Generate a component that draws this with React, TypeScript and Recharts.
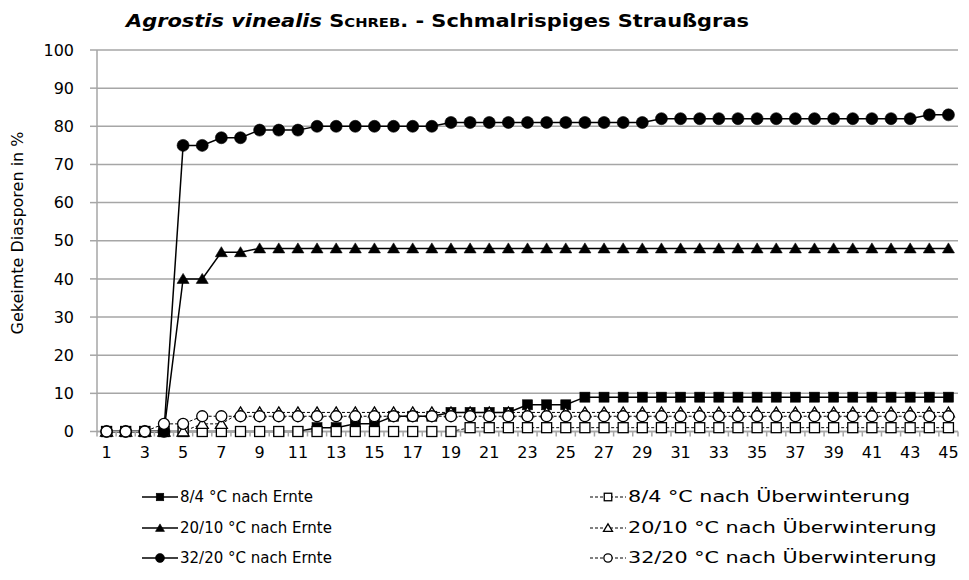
import { LineChart, Line, XAxis, YAxis, CartesianGrid } from 'recharts';

// Keimversuch, Tage 1-45
const days = [
  1, 2, 3, 4, 5, 6, 7, 8, 9, 10, 11, 12, 13, 14, 15, 16, 17, 18, 19, 20, 21, 22, 23,
  24, 25, 26, 27, 28, 29, 30, 31, 32, 33, 34, 35, 36, 37, 38, 39, 40, 41, 42, 43, 44, 45,
];
const dayLabels = [1, 3, 5, 7, 9, 11, 13, 15, 17, 19, 21, 23, 25, 27, 29, 31, 33, 35, 37, 39, 41, 43, 45];
const percentTicks = [0, 10, 20, 30, 40, 50, 60, 70, 80, 90, 100];

const ernte84 = [
  0, 0, 0, 0, 0, 0, 0, 0, 0, 0, 0, 1, 1, 2, 2, 4, 4, 4, 5, 5, 5, 5, 7,
  7, 7, 9, 9, 9, 9, 9, 9, 9, 9, 9, 9, 9, 9, 9, 9, 9, 9, 9, 9, 9, 9,
];
const ueberw84 = [
  0, 0, 0, 0, 0, 0, 0, 0, 0, 0, 0, 0, 0, 0, 0, 0, 0, 0, 0, 1, 1, 1, 1,
  1, 1, 1, 1, 1, 1, 1, 1, 1, 1, 1, 1, 1, 1, 1, 1, 1, 1, 1, 1, 1, 1,
];
const ernte2010 = [
  0, 0, 0, 0, 40, 40, 47, 47, 48, 48, 48, 48, 48, 48, 48, 48, 48, 48, 48, 48, 48, 48, 48,
  48, 48, 48, 48, 48, 48, 48, 48, 48, 48, 48, 48, 48, 48, 48, 48, 48, 48, 48, 48, 48, 48,
];
const ueberw2010 = [
  0, 0, 0, 0, 0, 2, 2, 5, 5, 5, 5, 5, 5, 5, 5, 5, 5, 5, 5, 5, 5, 5, 5,
  5, 5, 5, 5, 5, 5, 5, 5, 5, 5, 5, 5, 5, 5, 5, 5, 5, 5, 5, 5, 5, 5,
];
const ernte3220 = [
  0, 0, 0, 0, 75, 75, 77, 77, 79, 79, 79, 80, 80, 80, 80, 80, 80, 80, 81, 81, 81, 81, 81,
  81, 81, 81, 81, 81, 81, 82, 82, 82, 82, 82, 82, 82, 82, 82, 82, 82, 82, 82, 82, 83, 83,
];
const ueberw3220 = [
  0, 0, 0, 2, 2, 4, 4, 4, 4, 4, 4, 4, 4, 4, 4, 4, 4, 4, 4, 4, 4, 4, 4,
  4, 4, 4, 4, 4, 4, 4, 4, 4, 4, 4, 4, 4, 4, 4, 4, 4, 4, 4, 4, 4, 4,
];

const data = days.map((day, i) => ({
  day,
  e84: ernte84[i],
  u84: ueberw84[i],
  e2010: ernte2010[i],
  u2010: ueberw2010[i],
  e3220: ernte3220[i],
  u3220: ueberw3220[i],
}));

type Shape = 'square' | 'triangle' | 'circle';

const series: { key: string; name: string; shape: Shape; filled: boolean }[] = [
  { key: 'e84', name: '8/4 °C nach Ernte', shape: 'square', filled: true },
  { key: 'u84', name: '8/4 °C nach Überwinterung', shape: 'square', filled: false },
  { key: 'e2010', name: '20/10 °C nach Ernte', shape: 'triangle', filled: true },
  { key: 'u2010', name: '20/10 °C nach Überwinterung', shape: 'triangle', filled: false },
  { key: 'e3220', name: '32/20 °C nach Ernte', shape: 'circle', filled: true },
  { key: 'u3220', name: '32/20 °C nach Überwinterung', shape: 'circle', filled: false },
];

const FONT = '"DejaVu Sans", sans-serif';
const GRID = '#a6a6a6';

function Marker({ cx, cy, shape, filled, s = 1 }: { cx: number; cy: number; shape: Shape; filled: boolean; s?: number }) {
  const fill = filled ? '#000' : '#fff';
  const sw = filled ? 0.6 : 1.3;
  if (shape === 'square') {
    const h = 5 * s;
    return <rect x={cx - h} y={cy - h} width={2 * h} height={2 * h} fill={fill} stroke="#000" strokeWidth={sw} />;
  }
  if (shape === 'triangle') {
    const w = 6 * s;
    const pts = `${cx},${cy - 5.5 * s} ${cx + w},${cy + 4.5 * s} ${cx - w},${cy + 4.5 * s}`;
    return <polygon points={pts} fill={fill} stroke="#000" strokeWidth={sw} />;
  }
  return <circle cx={cx} cy={cy} r={(filled ? 6 : 5.5) * s} fill={fill} stroke="#000" strokeWidth={sw} />;
}

// labels on odd days, small tick marks between categories
function DayTick(props: any) {
  const { x, y, payload } = props;
  const v = payload.value as number;
  if (!Number.isInteger(v)) {
    return <line x1={x} x2={x} y1={y} y2={y + 5} stroke={GRID} strokeWidth={1.5} />;
  }
  return (
    <text x={x} y={y + 26} textAnchor="middle" fontFamily={FONT} fontSize={16} fill="#000">
      {v}
    </text>
  );
}

function LegendItem({ shape, filled, name, stretch }: { shape: Shape; filled: boolean; name: string; stretch: number }) {
  return (
    <div style={{ display: 'flex', alignItems: 'center', height: 20, whiteSpace: 'nowrap' }}>
      <svg width={36} height={14} style={{ marginRight: 2 }}>
        <line x1={0} x2={36} y1={7} y2={7} stroke="#000" strokeWidth={filled ? 1.5 : 1} strokeDasharray={filled ? undefined : '3 2'} />
        <Marker cx={18} cy={7} shape={shape} filled={filled} s={0.75} />
      </svg>
      <span style={{ display: 'inline-block', transform: `scaleX(${stretch})`, transformOrigin: 'left center' }}>{name}</span>
    </div>
  );
}

const boundaries = days.map((d) => d - 0.5).concat([45.5]);

export default function App() {
  return (
    <div style={{ position: 'absolute', left: 0, top: 0, width: 969, height: 580, background: '#fff', fontFamily: FONT }}>
      <div
        style={{
          position: 'absolute',
          left: 0,
          top: 13,
          width: 875,
          textAlign: 'center',
          fontSize: 17,
          fontWeight: 'bold',
          lineHeight: 1,
          whiteSpace: 'nowrap',
          transform: 'scaleX(1.23)',
          transformOrigin: '437.5px 0',
        }}
      >
        <i>Agrostis vinealis</i> <span style={{ fontVariant: 'small-caps' }}>Schreb.</span> - Schmalrispiges Straußgras
      </div>
      <LineChart width={969} height={580} data={data} margin={{ top: 50, right: 11, bottom: 118.5, left: 0 }}>
        <CartesianGrid vertical={false} stroke={GRID} strokeWidth={1.5} />
        <XAxis
          dataKey="day"
          type="number"
          domain={[0.5, 45.5]}
          ticks={[...dayLabels, ...boundaries]}
          interval={0}
          tickLine={false}
          tickSize={0}
          tickMargin={0}
          tick={<DayTick />}
          axisLine={{ stroke: GRID, strokeWidth: 1.5 }}
          height={30}
        />
        <YAxis
          domain={[0, 100]}
          ticks={percentTicks}
          interval={0}
          width={97}
          tickSize={7}
          tickMargin={16}
          tickLine={{ stroke: GRID, strokeWidth: 1.5 }}
          axisLine={{ stroke: GRID, strokeWidth: 1.5 }}
          tick={{ fontFamily: FONT, fontSize: 16, fill: '#000' }}
          label={{
            content: () => (
              <text x={17} y={233} transform="rotate(-90 17 233)" textAnchor="middle" dominantBaseline="central" fontFamily={FONT} fontSize={16} fill="#000">
                Gekeimte Diasporen in %
              </text>
            ),
          }}
        />
        {series.map((s) => (
          <Line
            key={s.key}
            dataKey={s.key}
            name={s.name}
            stroke="#000"
            strokeWidth={s.filled ? 1.5 : 1}
            strokeDasharray={s.filled ? undefined : '3 2'}
            isAnimationActive={false}
            dot={(p: any) => <Marker key={`${s.key}-${p.index}`} cx={p.cx} cy={p.cy} shape={s.shape} filled={s.filled} />}
            activeDot={false}
          />
        ))}
      </LineChart>
      <div style={{ position: 'absolute', left: 142, top: 487, fontSize: 15, lineHeight: '20px' }}>
        {series
          .filter((s) => s.filled)
          .map((s) => (
            <div key={s.key} style={{ marginBottom: 10.5 }}>
              <LegendItem shape={s.shape} filled={s.filled} name={s.name} stretch={1} />
            </div>
          ))}
      </div>
      <div style={{ position: 'absolute', left: 590, top: 487, fontSize: 15, lineHeight: '20px' }}>
        {series
          .filter((s) => !s.filled)
          .map((s) => (
            <div key={s.key} style={{ marginBottom: 10.5 }}>
              <LegendItem shape={s.shape} filled={s.filled} name={s.name} stretch={1.38} />
            </div>
          ))}
      </div>
    </div>
  );
}
